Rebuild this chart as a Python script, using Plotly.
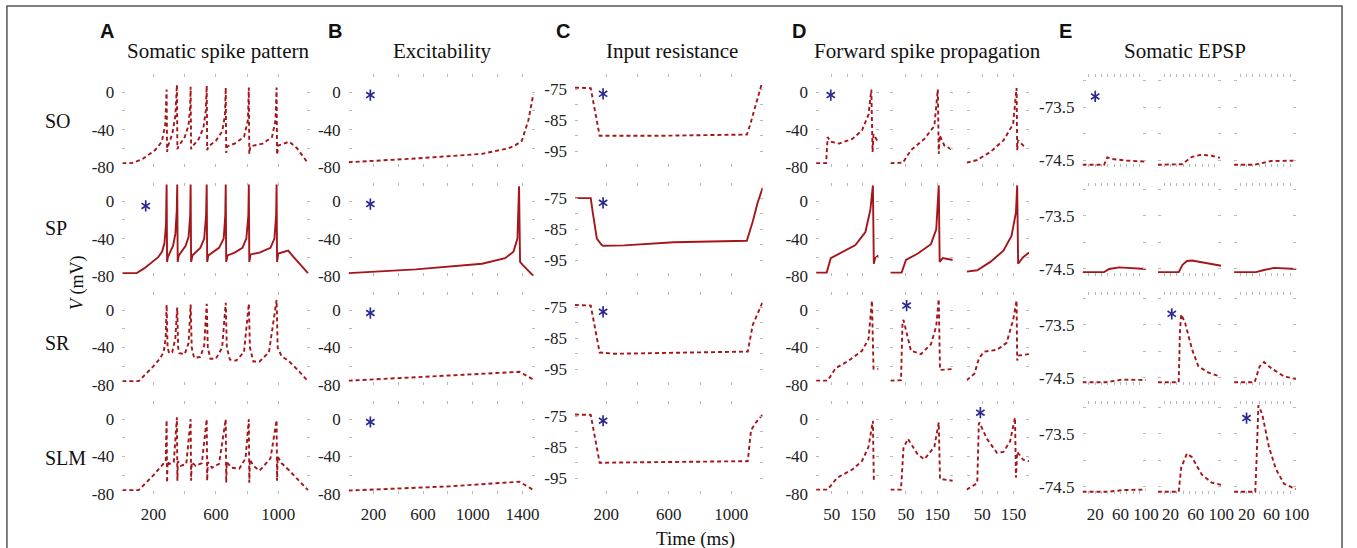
import plotly.graph_objects as go

# ---------------- data (time in ms, voltage in mV) ----------------
# Panel A: somatic spike pattern
A_SO_T = [0, 60, 126, 210, 253, 275, 284, 287, 292, 320, 340, 350, 353, 360, 400, 425, 435, 438, 441, 450, 490, 520, 535, 541, 544, 552, 600, 640, 658, 663, 666, 672, 720, 780, 805, 811, 814, 820, 900, 960, 982, 989, 992, 1000, 1070, 1120, 1190]
A_SO_V = [-76, -76, -72, -62, -53, -35, 3, -64, -58, -45, -25, 8, -61, -58, -48, -35, -15, 6, -61, -58, -50, -38, -20, 7, -62, -58, -52, -42, -25, 5, -65, -58, -55, -48, -30, 5, -66, -58, -55, -48, -30, 5, -67, -57, -53, -60, -76]
A_SP_T = [0, 92, 140, 188, 230, 255, 270, 280, 284, 287, 292, 305, 325, 340, 349, 352, 355, 362, 380, 405, 425, 435, 438, 441, 450, 470, 500, 525, 537, 541, 544, 552, 580, 620, 650, 660, 663, 666, 675, 720, 770, 795, 808, 811, 814, 822, 880, 950, 975, 986, 989, 992, 1000, 1063, 1110, 1150, 1190]
A_SP_V = [-77, -77, -72, -66, -60, -54, -45, -25, 18, -65, -60, -55, -48, -35, -10, 18, -65, -58, -54, -48, -38, -15, 18, -65, -58, -55, -50, -40, -15, 18, -65, -58, -55, -50, -40, -15, 18, -65, -58, -55, -50, -40, -15, 18, -65, -57, -55, -50, -40, -15, 18, -65, -56, -53, -62, -70, -77]
A_SR_T = [0, 105, 200, 240, 265, 278, 284, 290, 300, 320, 340, 352, 358, 365, 400, 425, 438, 445, 460, 500, 525, 541, 548, 565, 600, 640, 663, 670, 690, 730, 780, 811, 818, 840, 880, 940, 989, 996, 1020, 1070, 1130, 1190]
A_SR_V = [-76, -76, -60, -52, -45, -30, 6, -40, -46, -45, -30, 3, -40, -46, -47, -35, 6, -40, -51, -50, -38, 7, -40, -52, -52, -40, 8, -40, -53, -54, -45, 7, -40, -55, -55, -45, 11, -40, -49, -55, -65, -76]
A_SLM_T = [0, 105, 200, 250, 278, 284, 287, 290, 300, 330, 350, 353, 356, 375, 410, 438, 441, 445, 470, 510, 541, 544, 548, 575, 620, 663, 666, 670, 700, 750, 790, 811, 814, 818, 840, 880, 950, 989, 992, 996, 1020, 1070, 1130, 1190]
A_SLM_V = [-76, -76, -60, -50, -45, -1, -68, -45, -48, -46, 2, -66, -45, -50, -48, 0, -66, -46, -50, -47, 0, -66, -46, -52, -48, 0, -68, -46, -52, -53, -42, 0, -68, -43, -50, -55, -42, -1, -66, -40, -47, -55, -65, -76]

# Panel B: excitability
B_SO_T = [0, 541, 1075, 1288, 1341, 1395, 1448, 1488]
B_SO_V = [-75, -71, -66, -60, -57, -52, -30, -2]
B_SP_T = [0, 541, 1075, 1261, 1328, 1360, 1373, 1381, 1400, 1440, 1488]
B_SP_V = [-77, -73, -67, -61, -54, -40, 16, -65, -68, -74, -80]
B_SR_T = [0, 400, 811, 1376, 1490]
B_SR_V = [-75.5, -73, -70, -66, -74.5]
B_SLM_T = [0, 400, 811, 1376, 1490]
B_SLM_V = [-76.5, -74.5, -72, -67, -76]

# Panel C: input resistance
C_SO_T = [0, 101, 158, 526, 1099, 1120, 1158, 1196]
C_SO_V = [-74.5, -74.7, -90, -90, -89.6, -86.5, -79.7, -73]
C_SP_T = [0, 101, 115, 140, 170, 180, 316, 632, 1099, 1116, 1137, 1168, 1200]
C_SP_V = [-75, -75, -80, -88, -90, -90.3, -90.2, -89.2, -88.7, -86, -82.5, -76.5, -71.7]
C_SR_T = [0, 101, 158, 253, 1105, 1137, 1200]
C_SR_V = [-74.3, -74.5, -89.6, -90, -89.3, -80.7, -73.4]
C_SLM_T = [0, 101, 158, 1105, 1126, 1158, 1200]
C_SLM_V = [-74.5, -74.6, -90, -89.5, -79.5, -77, -74.5]

# Panel D: forward spike propagation (three stimulation sites)
D1_SO_T = [0, 32, 37, 47, 74, 116, 147, 168, 177, 181, 184, 198]
D1_SO_V = [-76, -76, -48, -53, -55, -50, -41, -24, 3, -64, -45, -53]
D2_SO_T = [0, 40, 66, 109, 141, 152, 155, 158, 173, 200]
D2_SO_V = [-76, -75.5, -62, -50, -36, 3, -66, -46, -57, -62]
D3_SO_T = [0, 34, 76, 118, 149, 160, 162, 165, 181, 192]
D3_SO_V = [-75.5, -72.6, -64, -51.6, -34, 4.6, -62, -51.6, -57, -58]
D1_SP_T = [0, 34, 47, 74, 126, 158, 174, 182, 185, 189, 200]
D1_SP_V = [-76.5, -76.5, -61, -56, -47, -33, -9, 17, -67, -61, -58]
D2_SP_T = [0, 36, 50, 88, 130, 147, 155, 158, 168, 200]
D2_SP_V = [-76.5, -76.5, -63, -56, -46, -30, 17, -65, -61, -63]
D3_SP_T = [0, 34, 76, 118, 144, 158, 162, 165, 181, 200]
D3_SP_V = [-75.4, -74, -65, -53, -37, -12, 17, -67, -60, -55]
D1_SR_T = [0, 37, 63, 105, 147, 168, 179, 184, 200]
D1_SR_V = [-75.5, -75.5, -62, -54, -43.5, -31, 10.4, -62.6, -63]
D2_SR_T = [0, 34, 39, 42, 66, 98, 130, 147, 155, 159, 200]
D2_SR_V = [-75.5, -75, -12, -10.4, -43.5, -47, -36.5, -17, 12, -64, -63]
D3_SR_T = [0, 25, 39, 55, 97, 128, 149, 160, 162, 165, 200]
D3_SR_V = [-75, -68, -52, -44.5, -42.4, -35, -10.4, 10.4, -54, -48.7, -47]
D1_SLM_T = [0, 37, 68, 116, 147, 168, 182, 185, 189]
D1_SLM_V = [-75.5, -75.5, -62.6, -54, -45, -29.6, -1.7, -66, -66]
D2_SLM_T = [0, 34, 42, 56, 88, 109, 141, 155, 159, 200]
D2_SLM_V = [-75.5, -75.5, -31, -21, -38, -43, -29.6, -3.5, -64, -66]
D3_SLM_T = [0, 34, 39, 41, 65, 97, 118, 139, 155, 158, 162, 181, 200]
D3_SLM_V = [-75.5, -68.5, -5.2, -3.5, -21, -36, -35, -24, 1.7, -62.6, -35, -43.5, -45]

# Panel E: somatic EPSP (three stimulation sites)
E1_SO_T = [0, 34, 39, 47, 68, 100]
E1_SO_V = [-74.59, -74.59, -74.45, -74.48, -74.51, -74.53]
E2_SO_T = [0, 38, 54, 69, 85, 98]
E2_SO_V = [-74.59, -74.58, -74.44, -74.40, -74.42, -74.46]
E3_SO_T = [0, 33, 59, 80, 100]
E3_SO_V = [-74.59, -74.59, -74.52, -74.51, -74.51]
E1_SP_T = [0, 34, 42, 58, 100]
E1_SP_V = [-74.56, -74.56, -74.50, -74.47, -74.50]
E2_SP_T = [0, 33, 39, 46, 54, 100]
E2_SP_V = [-74.56, -74.56, -74.42, -74.35, -74.34, -74.44]
E3_SP_T = [0, 35, 48, 64, 100]
E3_SP_V = [-74.56, -74.56, -74.52, -74.48, -74.50]
E1_SR_T = [0, 37, 63, 100]
E1_SR_V = [-74.58, -74.58, -74.53, -74.54]
E2_SR_T = [0, 33, 35, 37, 43, 54, 64, 80, 98]
E2_SR_V = [-74.58, -74.58, -73.6, -73.3, -73.46, -73.96, -74.28, -74.40, -74.47]
E3_SR_T = [0, 33, 41, 48, 59, 80, 99]
E3_SR_V = [-74.58, -74.58, -74.28, -74.20, -74.31, -74.47, -74.52]
E1_SLM_T = [0, 42, 63, 79, 100]
E1_SLM_V = [-74.59, -74.59, -74.56, -74.55, -74.55]
E2_SLM_T = [0, 33, 37, 46, 54, 69, 85, 100]
E2_SLM_V = [-74.59, -74.59, -74.13, -73.87, -73.94, -74.26, -74.42, -74.46]
E3_SLM_T = [0, 34, 36, 39, 45, 56, 67, 80, 99]
E3_SLM_V = [-74.59, -74.59, -74.0, -72.96, -73.12, -73.75, -74.16, -74.44, -74.54]

# significance asterisks: (row, column, time, voltage)
STAR_ROW = [1, 0, 1, 2, 3, 0, 1, 2, 3, 0, 2, 3, 0, 2, 3]
STAR_COL = [0, 1, 1, 1, 1, 2, 2, 2, 2, 3, 4, 5, 6, 7, 8]
STAR_T = [150, 175, 175, 175, 175, 180, 180, 180, 180, 47, 52, 44, 20, 22, 20]
STAR_V = [-5, -3, -3, -3, -3, -76.5, -76.5, -76.5, -76.5, -3, 5, 7, -73.3, -73.29, -73.2]

ROWS = ["SO", "SP", "SR", "SLM"]
PANEL_LETTERS = ["A", "B", "C", "D", "E"]
PANEL_TITLES = ["Somatic spike pattern", "Excitability", "Input resistance",
                "Forward spike propagation", "Somatic EPSP"]

TRACES = {
    0: [(A_SO_T, A_SO_V), (A_SP_T, A_SP_V), (A_SR_T, A_SR_V), (A_SLM_T, A_SLM_V)],
    1: [(B_SO_T, B_SO_V), (B_SP_T, B_SP_V), (B_SR_T, B_SR_V), (B_SLM_T, B_SLM_V)],
    2: [(C_SO_T, C_SO_V), (C_SP_T, C_SP_V), (C_SR_T, C_SR_V), (C_SLM_T, C_SLM_V)],
    3: [(D1_SO_T, D1_SO_V), (D1_SP_T, D1_SP_V), (D1_SR_T, D1_SR_V), (D1_SLM_T, D1_SLM_V)],
    4: [(D2_SO_T, D2_SO_V), (D2_SP_T, D2_SP_V), (D2_SR_T, D2_SR_V), (D2_SLM_T, D2_SLM_V)],
    5: [(D3_SO_T, D3_SO_V), (D3_SP_T, D3_SP_V), (D3_SR_T, D3_SR_V), (D3_SLM_T, D3_SLM_V)],
    6: [(E1_SO_T, E1_SO_V), (E1_SP_T, E1_SP_V), (E1_SR_T, E1_SR_V), (E1_SLM_T, E1_SLM_V)],
    7: [(E2_SO_T, E2_SO_V), (E2_SP_T, E2_SP_V), (E2_SR_T, E2_SR_V), (E2_SLM_T, E2_SLM_V)],
    8: [(E3_SO_T, E3_SO_V), (E3_SP_T, E3_SP_V), (E3_SR_T, E3_SR_V), (E3_SLM_T, E3_SLM_V)],
}

# ---------------- layout geometry (pixels) ----------------
W, H = 1357, 548
ROW_TOP = [75, 186, 297, 408]
ROW_H = 95
COL_X = [(123.5, 312.5), (352, 540), (580.5, 770), (824, 887), (899, 962), (976, 1039),
         (1093, 1157), (1169, 1233), (1246, 1309)]

def px(x):
    return x / W

def py(y):
    return 1 - y / H

LINE_COLOR = "#a5161b"
STAR_COLOR = "#2a2a92"
TICK_COLOR = "#b8b8b8"
SERIF = "Liberation Serif"
TICK_FONT = dict(family=SERIF, size=17, color="#222222")

def x_spec(col):
    if col in (0, 2):
        vals = [0, 200, 400, 600, 800, 1000, 1200]
        txt = ["", "200", "", "600", "", "1000", ""]
        rng = [0, 1200]
    elif col == 1:
        vals = [0, 200, 400, 600, 800, 1000, 1200, 1400]
        txt = ["", "200", "", "600", "", "1000", "", "1400"]
        rng = [0, 1500]
    elif col in (3, 4, 5):
        vals = [0, 50, 100, 150, 200]
        txt = ["", "50", "", "150", ""]
        rng = [0, 200]
    else:
        vals = [0, 10, 20, 30, 40, 50, 60, 70, 80, 90, 100]
        txt = ["", "", "20", "", "", "", "60", "", "", "", "100"]
        rng = [0, 100]
    return vals, txt, rng

def y_spec(col):
    if col == 2:
        vals = [-100, -95, -90, -85, -80, -75, -70]
        txt = ["", "-95", "", "-85", "", "-75", ""]
        rng = [-100, -70]
    elif col >= 6:
        vals = [-74.5, -74.0, -73.5, -73.0]
        txt = ["-74.5", "", "-73.5", ""]
        rng = [-74.63, -72.87]
    else:
        vals = [-80, -60, -40, -20, 0, 20]
        txt = ["-80", "", "-40", "", "0", ""]
        rng = [-80, 20]
    return vals, txt, rng

fig = go.Figure()
layout = {}

for r in range(4):
    for c in range(9):
        n = r * 9 + c + 1
        xs = "" if n == 1 else str(n)
        t, v = TRACES[c][r]
        dash = "solid" if r == 1 else "4px,3px"
        fig.add_trace(go.Scatter(x=t, y=v, mode="lines", xaxis="x" + xs, yaxis="y" + xs,
                                 line=dict(color=LINE_COLOR, width=1.9, dash=dash),
                                 showlegend=False, hoverinfo="skip"))
        xv, xt, xr = x_spec(c)
        yv, yt, yr = y_spec(c)
        x0, x1 = COL_X[c]
        y_top = ROW_TOP[r]
        layout["xaxis" + xs] = dict(
            domain=[px(x0), px(x1)], anchor="y" + xs, range=xr,
            tickmode="array", tickvals=xv, ticktext=xt,
            showticklabels=(r == 3), ticks="inside", ticklen=3, tickwidth=1,
            tickcolor=TICK_COLOR, mirror="ticks", showline=False, showgrid=False,
            zeroline=False, tickfont=TICK_FONT, fixedrange=True, ticklabelstandoff=8)
        layout["yaxis" + xs] = dict(
            domain=[py(y_top + ROW_H), py(y_top)], anchor="x" + xs, range=yr,
            tickmode="array", tickvals=yv, ticktext=yt,
            showticklabels=(c in (0, 1, 2, 3, 6)), ticks="inside", ticklen=3, tickwidth=1,
            tickcolor=TICK_COLOR, mirror="ticks", showline=False, showgrid=False,
            zeroline=False, tickfont=TICK_FONT, fixedrange=True, ticklabelstandoff=7)

# asterisks: six-pointed, drawn as two overlaid three-ray markers
for r, c, t, v in zip(STAR_ROW, STAR_COL, STAR_T, STAR_V):
    n = r * 9 + c + 1
    xs = "" if n == 1 else str(n)
    for sym in ("y-up-open", "y-down-open"):
        fig.add_trace(go.Scatter(x=[t], y=[v], mode="markers", xaxis="x" + xs, yaxis="y" + xs,
                                 marker=dict(symbol=sym, size=7, color=STAR_COLOR,
                                             line=dict(color=STAR_COLOR, width=1.7)),
                                 showlegend=False, hoverinfo="skip"))

annotations = []
LETTER_X = [108, 338, 568, 807, 1076]
TITLE_X = [220, 446, 678, 936, 1196]
for L, lx in zip(PANEL_LETTERS, LETTER_X):
    annotations.append(dict(text="<b>" + L + "</b>", x=px(lx), y=py(32), xref="paper", yref="paper",
                            showarrow=False, xanchor="center", yanchor="middle",
                            font=dict(family="Liberation Sans", size=20, color="#111111")))
for T, tx in zip(PANEL_TITLES, TITLE_X):
    annotations.append(dict(text=T, x=px(tx), y=py(52), xref="paper", yref="paper",
                            showarrow=False, xanchor="center", yanchor="middle",
                            font=dict(family=SERIF, size=21, color="#111111")))
ROW_LABEL_Y = [123, 232, 349, 467]
for name, ry in zip(ROWS, ROW_LABEL_Y):
    annotations.append(dict(text=name, x=px(43), y=py(ry), xref="paper", yref="paper",
                            showarrow=False, xanchor="left", yanchor="middle",
                            font=dict(family=SERIF, size=20, color="#111111")))
annotations.append(dict(text="<i>V</i> (mV)", x=px(79), y=py(288), xref="paper", yref="paper",
                        showarrow=False, xanchor="center", yanchor="middle", textangle=-90,
                        font=dict(family=SERIF, size=18, color="#111111")))
annotations.append(dict(text="Time (ms)", x=px(702), y=py(529), xref="paper", yref="paper",
                        showarrow=False, xanchor="center", yanchor="top", yshift=-7,
                        font=dict(family=SERIF, size=19, color="#111111")))

layout["annotations"] = annotations
layout["shapes"] = [dict(type="rect", xref="paper", yref="paper",
                         x0=px(7), x1=px(1355), y0=py(560), y1=py(6),
                         line=dict(color="#555555", width=1.5), fillcolor="rgba(0,0,0,0)")]
layout.update(width=W, height=H, margin=dict(l=0, r=0, t=0, b=0),
              font=dict(family=SERIF, color="#222222"),
              paper_bgcolor="white", plot_bgcolor="white", showlegend=False)
fig.update_layout(**layout)

fig.write_html("out.html")
